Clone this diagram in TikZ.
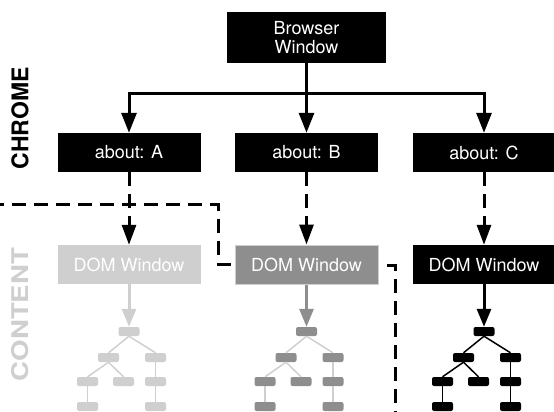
\documentclass[tikz,border=0pt]{standalone}
\usepackage{fontspec}
\setmainfont{TeX Gyre Heros}
\usetikzlibrary{arrows.meta}
\definecolor{lightg}{HTML}{CFCFCF}
\definecolor{midg}{HTML}{8E8E8E}
\begin{document}
\begin{tikzpicture}[x=1pt,y=-1pt,
  box/.style={fill=black, text=white, minimum width=143pt, minimum height=39pt, inner sep=0pt, align=center, font=\fontsize{18}{19.5}\selectfont},
  solidarr/.style={line width=3pt, -{Triangle[width=15pt,length=20pt]}},
  dasharr/.style={line width=3pt, dash pattern=on 14pt off 8pt, -{Triangle[width=14pt,length=20pt]}},
  dashln/.style={line width=3pt, dash pattern=on 14pt off 8pt},
  tn/.style={rounded corners=2pt, minimum width=21pt, minimum height=9pt, inner sep=0pt},
  tedge/.style={line width=1.5pt},
  domarr/.style={line width=3pt, -{Triangle[width=14pt,length=18pt]}},
  lbl/.style={rotate=90, inner sep=0pt, font=\fontsize{23}{23}\bfseries\selectfont},
]
\useasboundingbox (0,0) rectangle (554,412);

% labels
\node[lbl] (chrome) at (20,118.5) {CHROME};
\node[lbl, text=lightg] (content) at (20,314.5) {\scalebox{1.2}[1]{CONTENT}};

% chrome level
\node[box, minimum width=159pt, minimum height=51pt] (bw) at (306.5,37.5) {Browser\\Window};
\node[box] (aA) at (129,152.5) {about: A};
\node[box] (aB) at (306.5,152.5) {about: B};
\node[box] (aC) at (484,152.5) {about: C};
\coordinate (j) at (306.5,93);
\draw[solidarr] (bw.south) -- (aB.north);
\draw[solidarr] (j) -| (aA.north);
\draw[solidarr] (j) -| (aC.north);

% content level
\node[box, fill=lightg] (dA) at (129,264.5) {DOM Window};
\node[box, fill=midg, draw=lightg, line width=1pt] (dB) at (306.5,264.5) {DOM Window};
\node[box] (dC) at (484,264.5) {DOM Window};
\draw[dasharr] (aA.south) -- (dA.north);
\draw[dasharr] (aB.south) -- (dB.north);
\draw[dasharr] (aC.south) -- (dC.north);

% dashed boundary lines
\coordinate (l0) at (0,204.5);
\coordinate (l1) at (218,204.5);
\coordinate (l2) at (218,264);
\coordinate (l3) at (231,264);
\draw[dashln, dash phase=10pt] (l0) -- (l1) -- (l2) -- (l3);
\coordinate (r0) at (387,265);
\coordinate (r1) at (395,265);
\coordinate (r2) at (395,412);
\draw[dashln] (r0) -- (r1) -- (r2);

% DOM trees
\foreach \n/\cx/\nc/\ec in {A/129/lightg/lightg, B/306.5/midg/lightg, C/484/black/black} {
  \begin{scope}[shift={(\cx,0)}]
    \node[tn, fill=\nc] (t\n0) at (0,331.5) {};
    \node[tn, fill=\nc] (t\n1) at (-20.5,357.5) {};
    \node[tn, fill=\nc] (t\n2) at (26.5,357.5) {};
    \node[tn, fill=\nc] (t\n3) at (-41.5,381.5) {};
    \node[tn, fill=\nc] (t\n4) at (-5.5,381.5) {};
    \node[tn, fill=\nc] (t\n5) at (26.5,381.5) {};
    \node[tn, fill=\nc] (t\n6) at (-41.5,406.5) {};
    \node[tn, fill=\nc] (t\n7) at (26.5,406.5) {};
    \draw[tedge, draw=\ec] (t\n0.south) -- (t\n1.north);
    \draw[tedge, draw=\ec] (t\n0.south) -- (t\n2.north);
    \draw[tedge, draw=\ec] (t\n1.south) -- (t\n3.north);
    \draw[tedge, draw=\ec] (t\n1.south) -- (t\n4.north);
    \draw[tedge, draw=\ec] (t\n2.south) -- (t\n5.north);
    \draw[tedge, draw=\ec] (t\n3.south) -- (t\n6.north);
    \draw[tedge, draw=\ec] (t\n5.south) -- (t\n7.north);
    \draw[domarr, draw=\nc] (d\n.south) -- (t\n0.north);
  \end{scope}
}
\end{tikzpicture}
\end{document}
